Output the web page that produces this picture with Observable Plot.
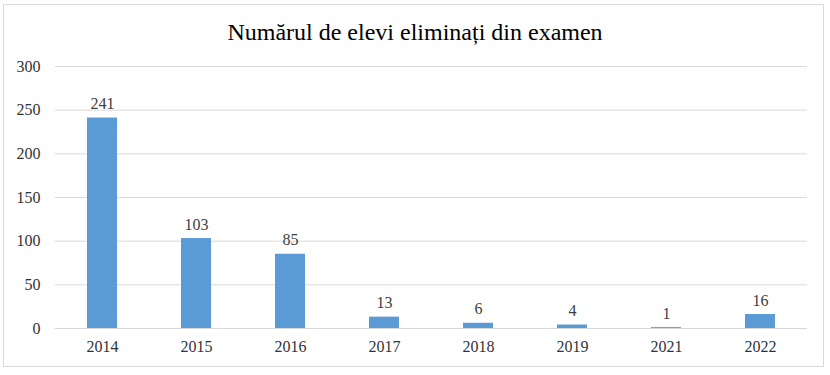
<!DOCTYPE html>
<html>
<head>
<meta charset="utf-8">
<script src="https://cdn.jsdelivr.net/npm/d3@7"></script>
<script src="https://cdn.jsdelivr.net/npm/@observablehq/plot@0.6"></script>
<style>
  body { margin: 0; background: #fff; }
  #wrap { position: relative; width: 830px; height: 375px; }
  #frame { position: absolute; left: 3px; top: 4px; width: 821px; height: 363px; border: 1px solid #d9d9d9; box-sizing: border-box; }
  #title { position: absolute; left: 0; top: 19px; width: 830px; text-align: center; font-family: "Liberation Serif", "Times New Roman", serif; font-size: 24px; color: #000; }
  #chart { position: absolute; left: 0; top: 0; }
  #chart svg, #chart svg text { font-family: "Liberation Serif", "Times New Roman", serif !important; }
</style>
</head>
<body>
<div id="wrap">
  <div id="frame"></div>
  <div id="title">Numărul de elevi eliminați din examen</div>
  <div id="chart"></div>
</div>
<script>
const years = ["2014", "2015", "2016", "2017", "2018", "2019", "2021", "2022"];
const values = [241, 103, 85, 13, 6, 4, 1, 16];
const yTicks = [0, 50, 100, 150, 200, 250, 300];

const data = years.map((y, i) => ({year: y, value: values[i]}));

const chart = Plot.plot({
  width: 830,
  height: 375,
  marginTop: 66,
  marginBottom: 47,
  marginLeft: 55,
  marginRight: 23,
  style: {fontSize: "16px", color: "#333", background: "transparent"},
  x: {domain: years, paddingInner: 0.68, paddingOuter: 0.34, label: null},
  y: {domain: [0, 300], ticks: yTicks, label: null},
  marks: [
    Plot.gridY(yTicks, {stroke: "#d9d9d9", strokeOpacity: 1}),
    Plot.barY(data, {x: "year", y: "value", fill: "#5b9bd5"}),
    Plot.axisY({ticks: yTicks, tickSize: 0, tickPadding: 15, label: null, fontSize: 16}),
    Plot.axisX({tickSize: 0, tickPadding: 12, label: null, fontSize: 16}),
    Plot.ruleY([0], {stroke: "#d9d9d9"}),
    Plot.text(data, {x: "year", y: "value", text: d => String(d.value), lineAnchor: "bottom", dy: -9, fill: "#404040", fontSize: 16})
  ]
});
document.getElementById("chart").appendChild(chart);
</script>
</body>
</html>
